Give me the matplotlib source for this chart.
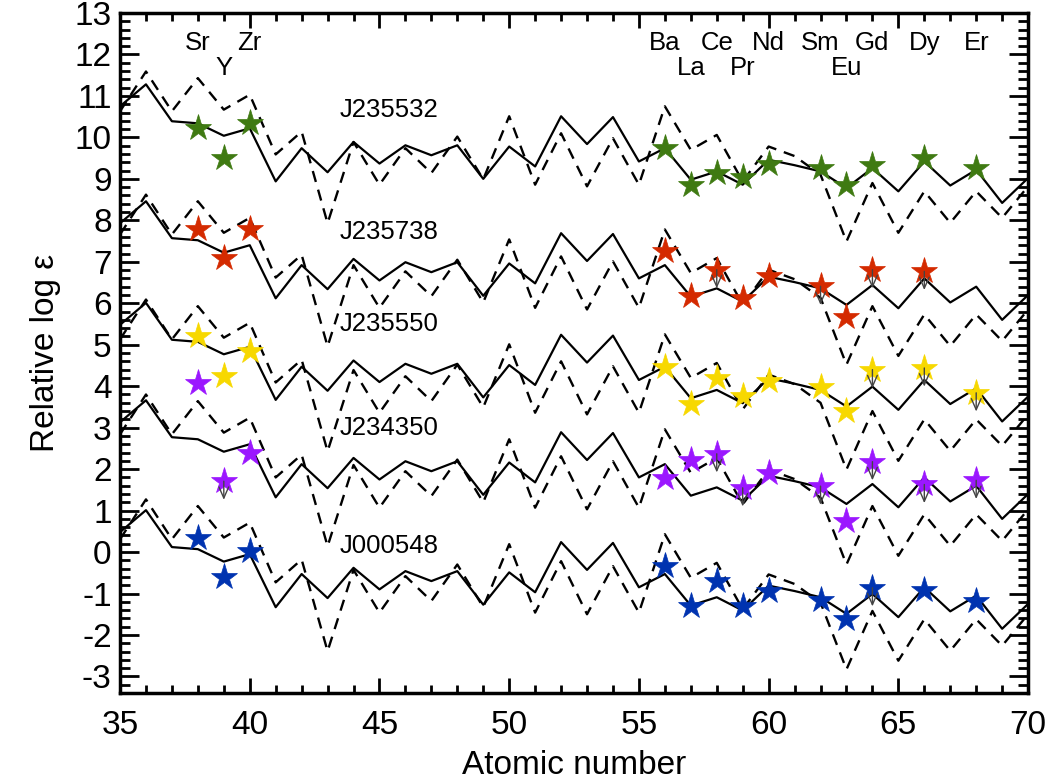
import matplotlib
matplotlib.use("Agg")
import matplotlib.pyplot as plt
from matplotlib.ticker import MultipleLocator

plt.rcParams["font.family"] = ["Liberation Sans", "DejaVu Sans"]
plt.rcParams["axes.unicode_minus"] = False

# scaled solar patterns (read for the top star), shifted per star below
Z_GRID = list(range(35, 71))
R_PATTERN = [10.75, 11.28, 10.39, 10.34, 10.04, 10.22, 8.94, 9.74, 9.16, 9.89,
             9.37, 9.81, 9.57, 9.81, 9.00, 9.78, 9.30, 10.51, 9.84, 10.49,
             9.42, 9.74, 8.98, 9.18, 8.86, 9.46, 9.33, 9.18, 8.78, 9.26,
             8.70, 9.42, 8.84, 9.22, 8.42, 9.02]
S_PATTERN = [10.63, 11.59, 10.63, 11.43, 10.67, 11.03, 9.59, 10.14, 7.93, 9.89,
             8.86, 9.74, 9.14, 10.02, 8.99, 10.51, 8.86, 10.10, 8.82, 9.98,
             8.86, 10.75, 9.70, 10.06, 8.94, 9.78, 9.55, 9.10, 7.49, 8.90,
             7.70, 8.70, 7.94, 8.70, 8.06, 8.82]

STAR_NAMES = ["J235532", "J235738", "J235550", "J234350", "J000548"]
STAR_COLORS = ["#3f7a12", "#d42a00", "#f7d800", "#9b17ff", "#0033b0"]
R_OFFSETS = [0.0, -2.82, -5.27, -7.62, -10.27]
S_OFFSETS = [0.0, -2.97, -5.50, -7.79, -10.32]
NAME_Y = [10.67, 7.73, 5.49, 3.00, 0.14]

ELEMENTS = ["Sr", "Y", "Zr", "Ba", "La", "Ce", "Pr", "Nd", "Sm", "Eu", "Gd", "Dy", "Er"]
Z_OBS = [38, 39, 40, 56, 57, 58, 59, 60, 62, 63, 64, 66, 68]
LABEL_ROW = [0, 1, 0, 0, 1, 0, 1, 0, 0, 1, 0, 0, 0]

J235532_EPS = [10.22, 9.50, 10.34, 9.74, 8.86, 9.14, 9.04, 9.36, 9.26, 8.86, 9.34, 9.50, 9.26]
J235532_UL = [0, 0, 0, 0, 0, 0, 0, 0, 0, 0, 0, 0, 0]
J235738_EPS = [7.78, 7.09, 7.78, 7.25, 6.17, 6.81, 6.13, 6.65, 6.41, 5.66, 6.81, 6.77, None]
J235738_UL = [0, 0, 0, 0, 0, 1, 0, 0, 1, 0, 1, 1, 0]
J235550_EPS = [5.20, 4.24, 4.84, 4.46, 3.56, 4.20, 3.76, 4.12, 3.98, 3.40, 4.40, 4.44, 3.84]
J235550_UL = [0, 0, 0, 0, 0, 0, 0, 0, 0, 0, 1, 1, 1]
J234350_EPS = [4.08, 1.71, 2.39, 1.79, 2.23, 2.37, 1.55, 1.91, 1.59, 0.76, 2.18, 1.63, 1.73]
J234350_UL = [0, 1, 0, 0, 0, 1, 1, 0, 1, 0, 1, 1, 1]
J000548_EPS = [0.35, -0.60, 0.02, -0.34, -1.30, -0.70, -1.30, -0.94, -1.16, -1.62, -0.86, -0.92, -1.18]
J000548_UL = [0, 0, 0, 0, 0, 0, 0, 0, 0, 0, 1, 0, 0]

STAR_EPS = [J235532_EPS, J235738_EPS, J235550_EPS, J234350_EPS, J000548_EPS]
STAR_UL = [J235532_UL, J235738_UL, J235550_UL, J234350_UL, J000548_UL]

LABEL_ROW_Y = [12.28, 11.68]
ARROW_LEN = 0.45


def main() -> None:
    fig = plt.figure(figsize=(10.51, 7.80), dpi=100)
    ax = fig.add_axes([0.1142, 0.1115, 0.8640, 0.8718])

    for i, name in enumerate(STAR_NAMES):
        r_line = [v + R_OFFSETS[i] for v in R_PATTERN]
        s_line = [v + S_OFFSETS[i] for v in S_PATTERN]
        ax.plot(Z_GRID, r_line, color="black", lw=1.6, zorder=2)
        ax.plot(Z_GRID, s_line, color="black", lw=1.7, dashes=(4.8, 3.4), zorder=2)

        for z, eps, ul in zip(Z_OBS, STAR_EPS[i], STAR_UL[i]):
            if eps is None:
                continue
            ax.plot(z, eps, marker="*", ms=19.5, color=STAR_COLORS[i],
                    mec=STAR_COLORS[i], mew=0.5, ls="none", zorder=3)
            if ul:
                ax.annotate(
                    "", xy=(z, eps - ARROW_LEN), xytext=(z, eps),
                    arrowprops=dict(arrowstyle="->,head_length=0.8,head_width=0.35",
                                    color="#444444", lw=1.0, shrinkA=0, shrinkB=0),
                    zorder=4,
                )

        ax.text(43.45, NAME_Y[i], name, fontsize=18.5, ha="left", va="center")

    for el, z, row in zip(ELEMENTS, Z_OBS, LABEL_ROW):
        ax.text(z, LABEL_ROW_Y[row], el, fontsize=18.5, ha="center", va="center")

    ax.set_xlim(35, 70)
    ax.set_ylim(-3.4, 13.0)
    ax.xaxis.set_major_locator(MultipleLocator(5))
    ax.xaxis.set_minor_locator(MultipleLocator(1))
    ax.yaxis.set_major_locator(MultipleLocator(1))
    ax.yaxis.set_minor_locator(MultipleLocator(0.2))

    ax.tick_params(which="both", direction="in", top=True, right=True, width=2.0,
                   labelsize=24)
    ax.tick_params(axis="x", which="major", length=11, pad=12)
    ax.tick_params(axis="x", which="minor", length=5.5)
    ax.tick_params(axis="y", which="major", length=14, pad=6)
    ax.tick_params(axis="y", which="minor", length=7)
    for spine in ax.spines.values():
        spine.set_linewidth(2.5)

    ax.set_xlabel("Atomic number", fontsize=24, labelpad=7)
    ax.set_ylabel("Relative log \u03b5", fontsize=24, labelpad=10)

    fig.savefig("out.png", dpi=100)
    plt.close(fig)


if __name__ == "__main__":
    main()
